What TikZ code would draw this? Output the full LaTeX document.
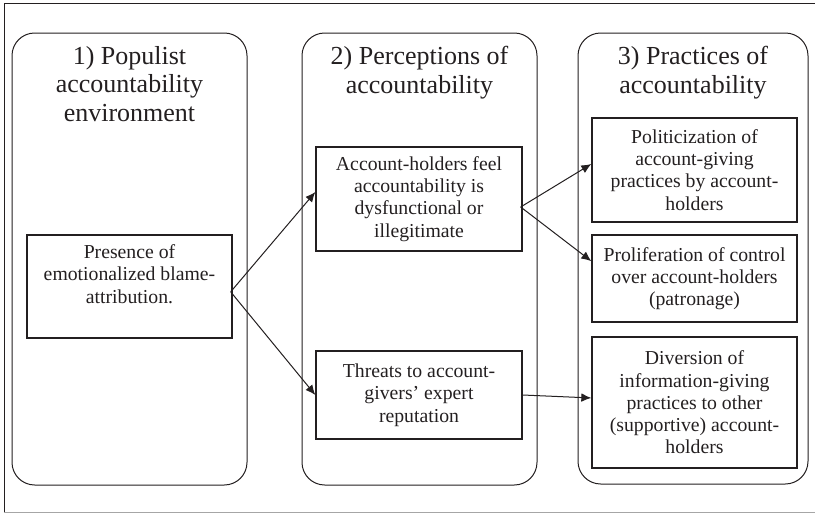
\documentclass[tikz,border=0pt]{standalone}
\usepackage{fontspec}
\setmainfont{Liberation Serif}
\usetikzlibrary{arrows.meta}
\definecolor{ink}{HTML}{231F20}
\tikzset{
  panel/.style={draw=ink, line width=0.75pt, rounded corners=17pt},
  ptitle/.style={anchor=north, inner sep=0pt, align=center, text=ink, font=\fontsize{19.5}{21.4}\selectfont},
  ibox/.style={draw=ink, line width=1pt, align=center, text=ink, inner sep=2pt, font=\fontsize{14.8}{16.7}\selectfont},
  conn/.style={draw=ink, line width=0.75pt, -{Latex[length=7.5pt,width=6.5pt]}}
}
\begin{document}
\begin{tikzpicture}[x=0.75pt, y=-0.75pt]
\useasboundingbox (0,0) rectangle (815,514);
% outer frame
\draw[ink, line width=0.9pt] (815,3.3) -- (4.3,3.3) -- (4.3,512.7);
\draw[black!35, line width=0.9pt] (4.3,512.7) -- (815,512.7);
% panels
\draw[panel] (12,33) rectangle (247,485);
\draw[panel] (302,33) rectangle (537,485);
\draw[panel] (578,33) rectangle (808,484);
% titles
\node[ptitle] (t1) at (129.5,46) {1) Populist\\accountability\\environment};
\node[ptitle] (t2) at (419.5,46) {2) Perceptions of\\accountability};
\node[ptitle] (t3) at (693,46) {3) Practices of\\accountability};
% inner boxes
\node[ibox, minimum width=153.75pt, minimum height=77.25pt, text depth=19pt] (pres) at (129.5,286.5) {Presence of\\emotionalized blame-\\attribution.};
\node[ibox, minimum width=154.5pt, minimum height=78pt] (acc) at (419,199) {Account-holders feel\\accountability is\\dysfunctional or\\illegitimate};
\node[ibox, minimum width=154.5pt, minimum height=66pt] (thr) at (419,395) {Threats to account-\\givers’ expert\\reputation};
\node[ibox, minimum width=153.75pt, minimum height=78pt] (pol) at (694.5,170) {Politicization of\\account-giving\\practices by account-\\holders};
\node[ibox, minimum width=153.75pt, minimum height=65.25pt] (pro) at (694.5,278.5) {Proliferation of control\\over account-holders\\(patronage)};
\node[ibox, minimum width=153.75pt, minimum height=98.25pt] (div) at (694.5,402.5) {Diversion of\\information-giving\\practices to other\\(supportive) account-\\holders};
% connectors
\coordinate (ps) at ([xshift=-1.5pt, yshift=-4pt]pres.east);
\coordinate (as) at ([xshift=-1.5pt, yshift=-6pt]acc.east);
\draw[conn] (ps) -- ([yshift=5.25pt]acc.west);
\draw[conn] (ps) -- (thr.west);
\draw[conn] (as) -- ([yshift=4.5pt]pol.west);
\draw[conn] (as) -- ([yshift=13pt]pro.west);
\draw[conn] (thr.east) -- ([yshift=3.4pt]div.west);
\end{tikzpicture}
\end{document}
